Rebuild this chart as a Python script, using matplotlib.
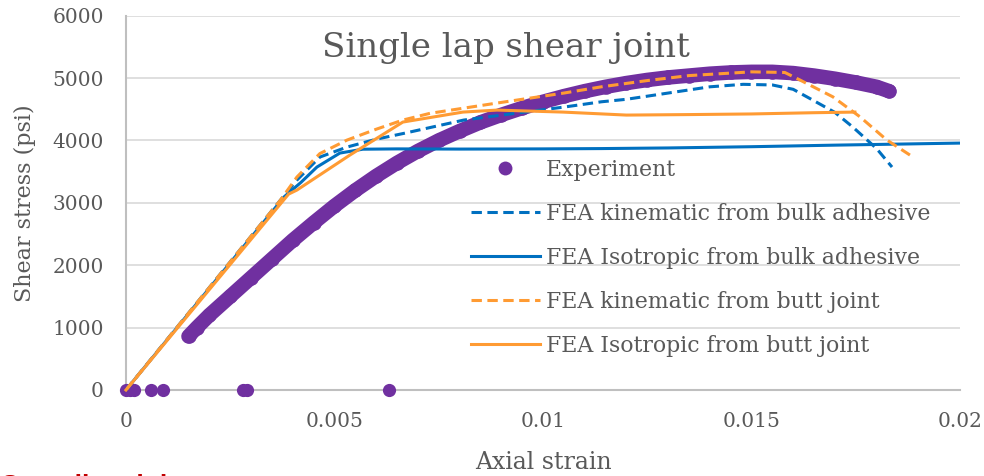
import matplotlib
matplotlib.use("Agg")
import matplotlib.pyplot as plt
from matplotlib.lines import Line2D

# ---- data -------------------------------------------------------------
# Experiment: measured points
exp_zero_strain = [0.0000, 0.0001, 0.0002, 0.0006, 0.0009, 0.0028, 0.0029, 0.0063]
exp_zero_stress = [0, 0, 0, 0, 0, 0, 0, 0]
exp_strain = [0.0015, 0.0017, 0.0020, 0.0025, 0.0030, 0.0035, 0.0040, 0.0045,
              0.0050, 0.0055, 0.0060, 0.0065, 0.0070, 0.0075, 0.0080, 0.0085,
              0.0090, 0.0095, 0.0100, 0.0105, 0.0110, 0.0115, 0.0120, 0.0125,
              0.0130, 0.0135, 0.0140, 0.0145, 0.0150, 0.0155, 0.0160, 0.0165,
              0.0170, 0.0175, 0.0180, 0.0183]
exp_stress = [860, 1000, 1200, 1500, 1800, 2100, 2400, 2680,
              2950, 3200, 3430, 3640, 3830, 4000, 4150, 4290,
              4410, 4520, 4620, 4710, 4790, 4860, 4920, 4970,
              5010, 5040, 5070, 5090, 5100, 5100, 5080, 5040,
              4990, 4930, 4860, 4790]

# FEA kinematic hardening, bulk adhesive properties
kin_bulk_strain = [0.0, 0.0037, 0.0041, 0.00465, 0.0053, 0.006, 0.0067, 0.0081,
                   0.0095, 0.0105, 0.0114, 0.0120, 0.0130, 0.0140, 0.0148,
                   0.0155, 0.0160, 0.01647, 0.0170, 0.01743, 0.0180, 0.01837]
kin_bulk_stress = [0, 3040, 3365, 3734, 3894, 4020, 4119, 4327,
                   4450, 4535, 4620, 4660, 4760, 4860, 4900,
                   4890, 4820, 4647, 4450, 4215, 3870, 3574]

# FEA isotropic hardening, bulk adhesive properties
iso_bulk_strain = [0.0, 0.0038, 0.0042, 0.00458, 0.00513, 0.00568, 0.0065,
                   0.0080, 0.0100, 0.0114, 0.0130, 0.0150, 0.0170, 0.0200]
iso_bulk_stress = [0, 3100, 3330, 3574, 3798, 3860, 3865,
                   3862, 3865, 3870, 3880, 3900, 3925, 3958]

# FEA kinematic hardening, butt joint properties
kin_butt_strain = [0.0, 0.0037, 0.0041, 0.00465, 0.0053, 0.006, 0.00664, 0.00729,
                   0.0089, 0.0105, 0.0114, 0.0125, 0.0135, 0.0150, 0.0158,
                   0.01616, 0.01695, 0.0176, 0.01824, 0.0188]
kin_butt_stress = [0, 3040, 3414, 3790, 4006, 4180, 4327, 4435,
                   4600, 4760, 4860, 4960, 5040, 5100, 5090,
                   4970, 4700, 4380, 4010, 3766]

# FEA isotropic hardening, butt joint properties
iso_butt_strain = [0.0, 0.0039, 0.0041, 0.00537, 0.00664, 0.00808,
                   0.0089, 0.01048, 0.0120, 0.0135, 0.0150, 0.0165, 0.01748]
iso_butt_stress = [0, 3140, 3205, 3766, 4295, 4455,
                   4487, 4455, 4407, 4415, 4425, 4445, 4455]

x_ticks = [0, 0.005, 0.01, 0.015, 0.02]
x_tick_labels = ["0", "0.005", "0.01", "0.015", "0.02"]
y_ticks = [0, 1000, 2000, 3000, 4000, 5000, 6000]

# ---- style --------------------------------------------------------------
PURPLE = "#7030A0"
BLUE = "#0070C0"
ORANGE = "#FF9B33"
TEXT = "#595959"
SERIF = "DejaVu Serif"
dash = (0, (3.4, 1.8))

fig = plt.figure(figsize=(9.84, 4.76), dpi=100)
ax = fig.add_axes([0.128, 0.1807, 0.8476, 0.7863])

# experiment: dense cloud of points rendered as a thick band
ax.plot(exp_strain, exp_stress, color=PURPLE, lw=10.5, solid_capstyle="round",
        solid_joinstyle="round", zorder=3)
ax.plot(exp_strain, exp_stress, "o", color=PURPLE, ms=10.5, mew=0, zorder=3)
ax.plot(exp_zero_strain, exp_zero_stress, "o", color=PURPLE, ms=9.5, mew=0,
        zorder=3, clip_on=False)

lw = 2.2
ax.plot(kin_bulk_strain, kin_bulk_stress, color=BLUE, lw=lw, linestyle=dash, zorder=4)
ax.plot(iso_bulk_strain, iso_bulk_stress, color=BLUE, lw=lw, zorder=4)
ax.plot(kin_butt_strain, kin_butt_stress, color=ORANGE, lw=lw, linestyle=dash, zorder=4)
ax.plot(iso_butt_strain, iso_butt_stress, color=ORANGE, lw=lw, zorder=4, clip_on=False)

ax.set_xlim(0, 0.02)
ax.set_ylim(0, 6000)
ax.set_xticks(x_ticks)
ax.set_xticklabels(x_tick_labels)
ax.set_yticks(y_ticks)
ax.grid(axis="y", color="#D9D9D9", lw=1.2)
ax.set_axisbelow(True)
for side in ("top", "right"):
    ax.spines[side].set_visible(False)
for side in ("left", "bottom"):
    ax.spines[side].set_color("#BFBFBF")
    ax.spines[side].set_linewidth(1.5)
ax.tick_params(length=0, labelsize=14.5, labelcolor=TEXT, pad=16)
for lab in ax.get_xticklabels() + ax.get_yticklabels():
    lab.set_fontfamily(SERIF)

ax.set_xlabel("Axial strain", fontsize=17, color=TEXT, family=SERIF, labelpad=14)
ax.set_ylabel("Shear stress (psi)", fontsize=16, color=TEXT, family=SERIF, labelpad=12)
ax.text(0.455, 0.915, "Single lap shear joint", transform=ax.transAxes,
        ha="center", va="center", fontsize=24.5, color=TEXT, family=SERIF)

handles = [
    Line2D([], [], color=PURPLE, marker="o", ms=10, lw=0, mew=0),
    Line2D([], [], color=BLUE, lw=lw, linestyle=dash),
    Line2D([], [], color=BLUE, lw=lw),
    Line2D([], [], color=ORANGE, lw=lw, linestyle=dash),
    Line2D([], [], color=ORANGE, lw=lw),
]
labels = ["Experiment", "FEA kinematic from bulk adhesive",
          "FEA Isotropic from bulk adhesive", "FEA kinematic from butt joint",
          "FEA Isotropic from butt joint"]
leg = ax.legend(handles, labels, loc="center", bbox_to_anchor=(0.689, 0.353),
                frameon=False, prop={"family": SERIF, "size": 15.8},
                labelcolor=TEXT, handlelength=3.15, handletextpad=0.3,
                labelspacing=1.0, borderpad=0.0)

# section heading that continues below the figure edge
fig.text(0.0, 0.005, "Compliant joint", color="#C00000", fontsize=19,
         fontweight="bold", family="Liberation Sans", ha="left", va="top")

fig.savefig("out.png", dpi=100)
